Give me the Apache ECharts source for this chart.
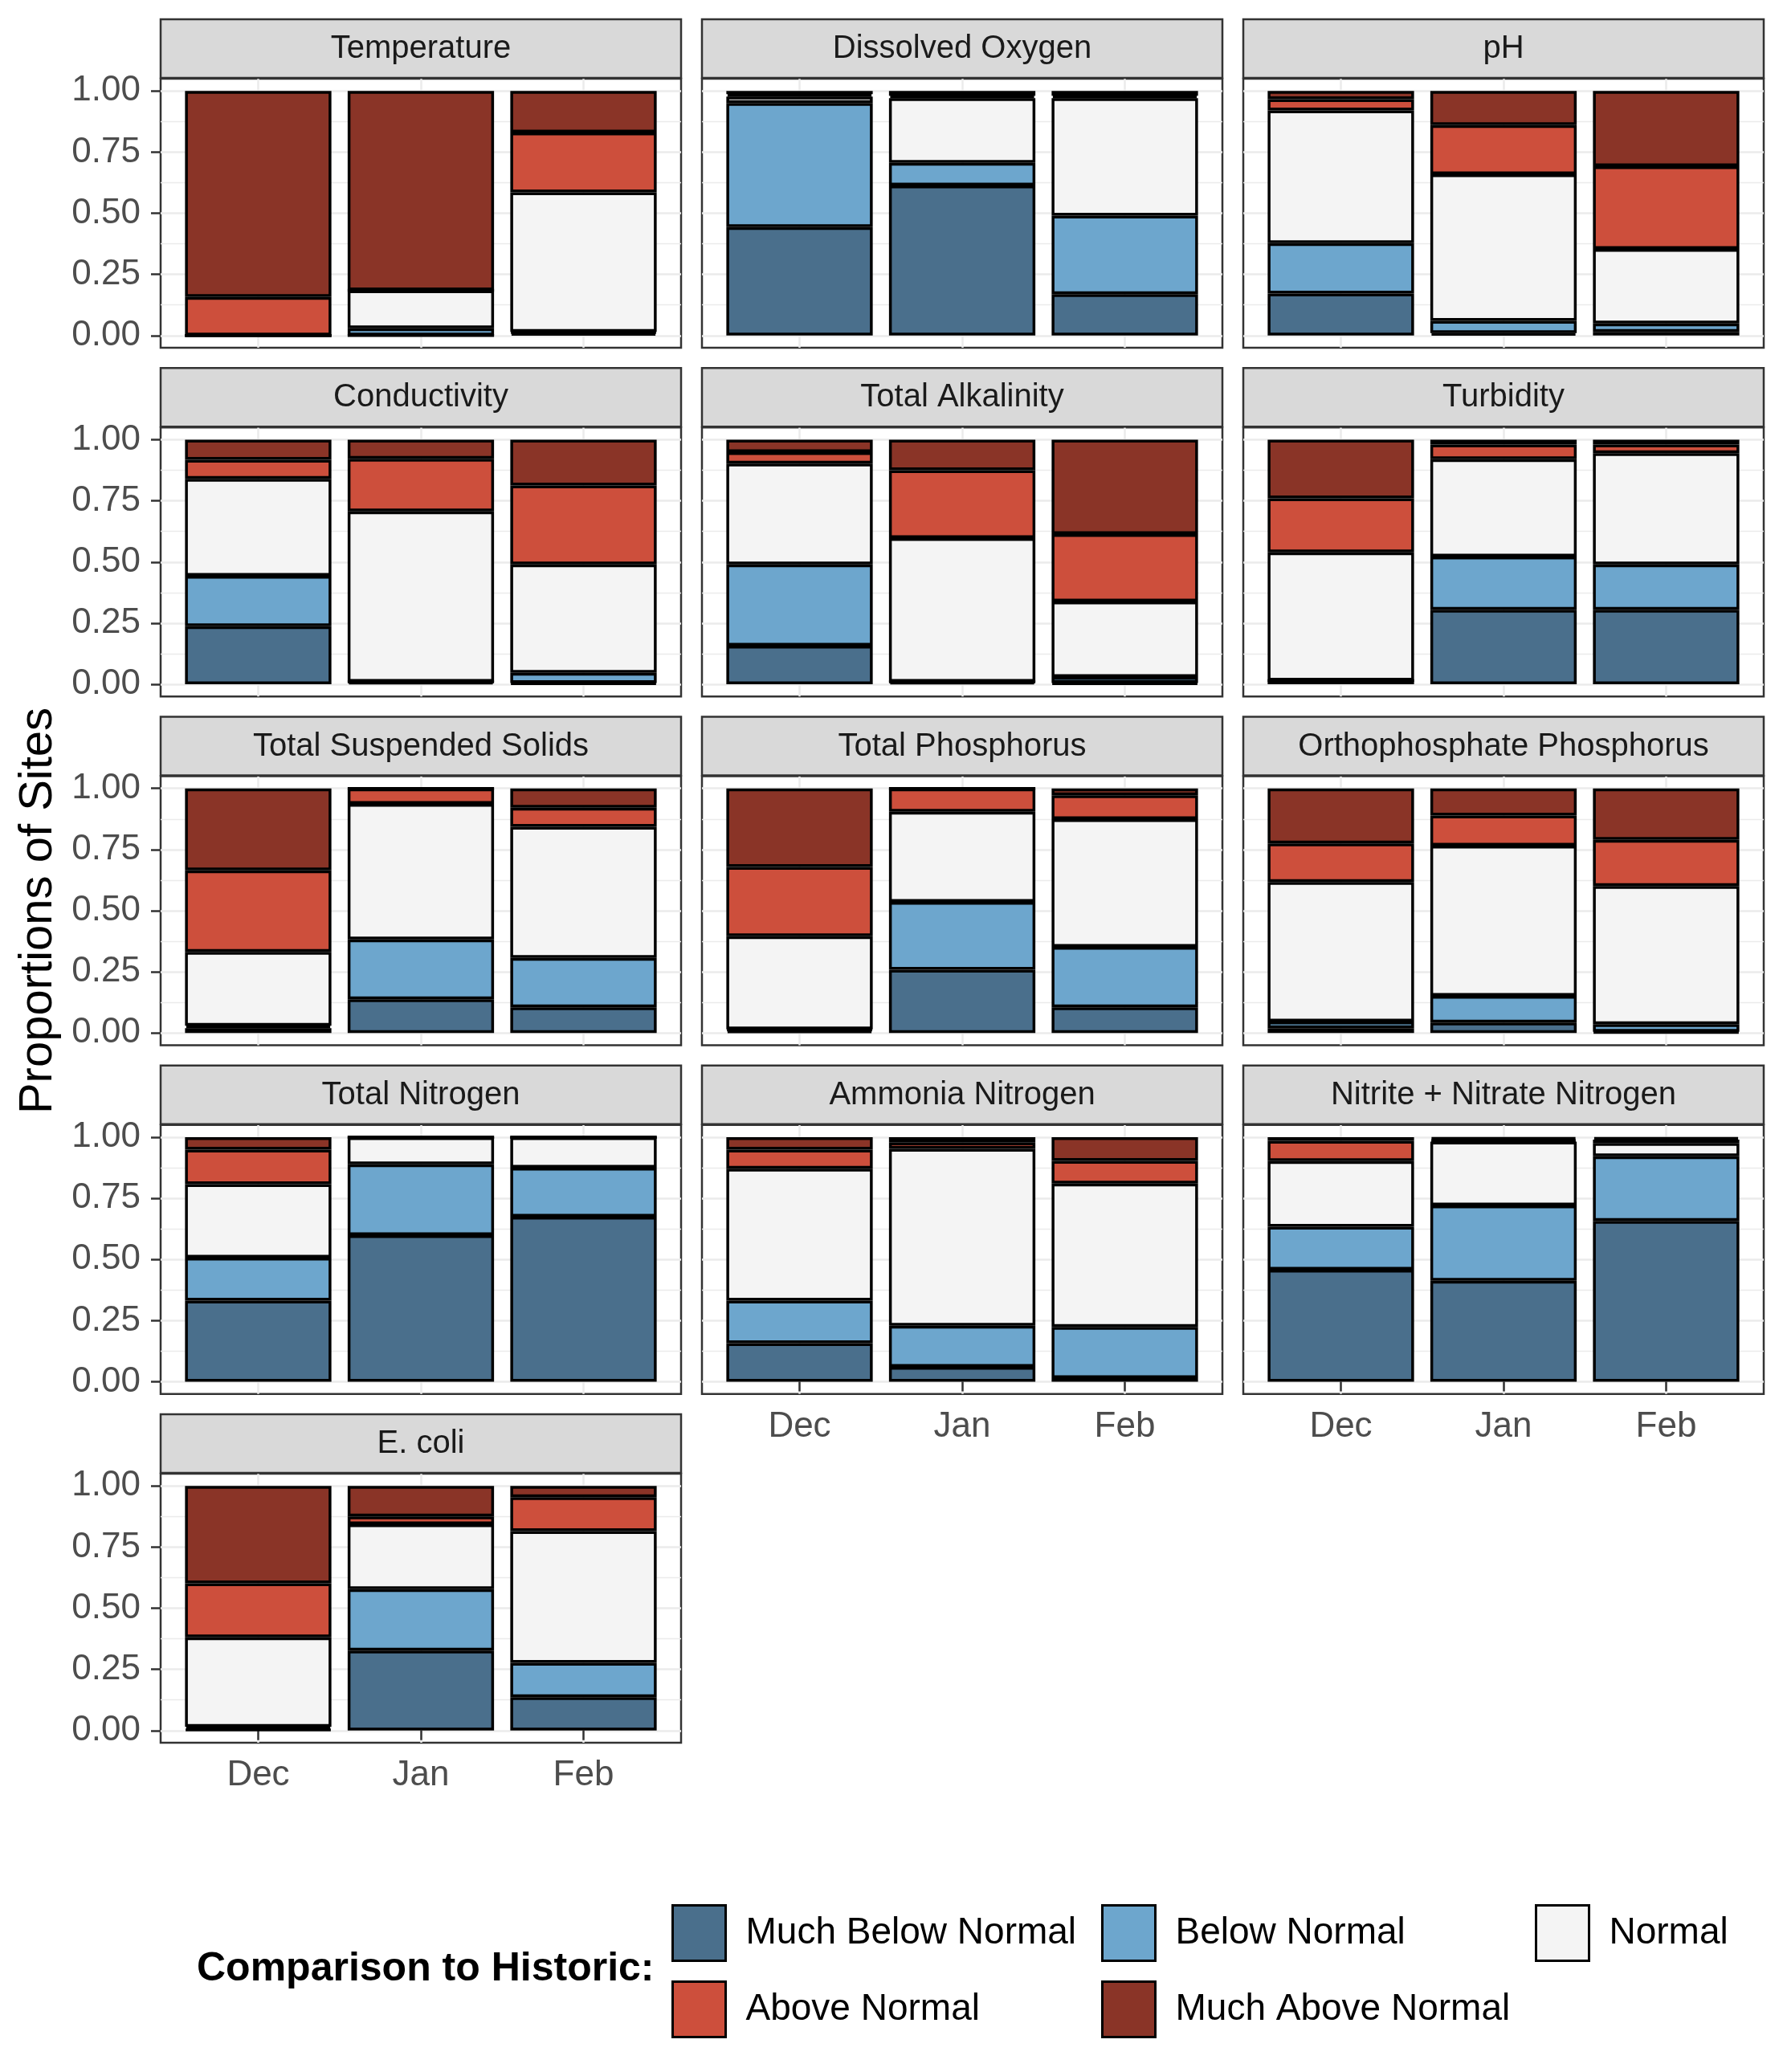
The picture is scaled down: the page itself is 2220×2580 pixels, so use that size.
<!DOCTYPE html>
<html>
<head>
<meta charset="utf-8">
<script src="https://cdn.jsdelivr.net/npm/echarts@6/dist/echarts.min.js"></script>
<style>
  html, body { margin: 0; padding: 0; background: #fff; }
  #chart { width: 2220px; height: 2580px; }
</style>
</head>
<body>
<div id="chart"></div>
<script>
const months = ["Dec", "Jan", "Feb"];
const groups = ["Much Below Normal", "Below Normal", "Normal", "Above Normal", "Much Above Normal"];
const groupColors = ["#4A6F8C", "#6DA6CD", "#F4F4F4", "#CD4F3C", "#8A3427"];
const yTicks = [0, 0.25, 0.5, 0.75, 1];
const yMinor = [0.125, 0.375, 0.625, 0.875];

// each row: one comparison group (bottom to top), values for Dec, Jan, Feb
const temperature = [[0, 0, 0.01], [0, 0.03, 0.005], [0, 0.155, 0.57], [0.158, 0, 0.245], [0.842, 0.815, 0.17]];
const dissolvedOxygen = [[0.443, 0.613, 0.169], [0.508, 0.093, 0.321], [0.026, 0.264, 0.48], [0.01, 0.01, 0.01], [0.013, 0.02, 0.02]];
const pH = [[0.172, 0.01, 0.015], [0.206, 0.05, 0.034], [0.542, 0.599, 0.305], [0.046, 0.201, 0.338], [0.034, 0.14, 0.308]];
const conductivity = [[0.237, 0.01, 0.005], [0.206, 0, 0.042], [0.397, 0.697, 0.443], [0.078, 0.215, 0.323], [0.082, 0.078, 0.187]];
const totalAlkalinity = [[0.158, 0.01, 0.005], [0.332, 0, 0.025], [0.412, 0.588, 0.308], [0.047, 0.277, 0.276], [0.051, 0.125, 0.386]];
const turbidity = [[0.015, 0.305, 0.305], [0, 0.217, 0.185], [0.524, 0.398, 0.455], [0.221, 0.06, 0.035], [0.24, 0.02, 0.02]];
const totalSuspendedSolids = [[0.02, 0.138, 0.105], [0.01, 0.245, 0.202], [0.302, 0.554, 0.536], [0.333, 0.063, 0.078], [0.335, 0, 0.079]];
const totalPhosphorus = [[0.01, 0.259, 0.105], [0.005, 0.277, 0.247], [0.381, 0.369, 0.522], [0.283, 0.095, 0.098], [0.321, 0, 0.028]];
const orthophosphate = [[0.02, 0.043, 0.005], [0.027, 0.109, 0.031], [0.57, 0.614, 0.565], [0.158, 0.123, 0.189], [0.225, 0.111, 0.21]];
const totalNitrogen = [[0.332, 0.599, 0.675], [0.175, 0.29, 0.2], [0.301, 0.111, 0.125], [0.141, 0, 0], [0.051, 0, 0]];
const ammoniaNitrogen = [[0.158, 0.061, 0.015], [0.174, 0.168, 0.209], [0.539, 0.723, 0.586], [0.078, 0.026, 0.093], [0.051, 0.022, 0.097]];
const nitriteNitrate = [[0.458, 0.413, 0.658], [0.176, 0.308, 0.264], [0.268, 0.261, 0.054], [0.083, 0.008, 0.014], [0.015, 0.01, 0.01]];
const eColi = [[0.005, 0.327, 0.136], [0.01, 0.251, 0.141], [0.366, 0.265, 0.538], [0.221, 0.032, 0.139], [0.398, 0.125, 0.046]];

const panels = [
  ["Temperature", temperature],
  ["Dissolved Oxygen", dissolvedOxygen],
  ["pH", pH],
  ["Conductivity", conductivity],
  ["Total Alkalinity", totalAlkalinity],
  ["Turbidity", turbidity],
  ["Total Suspended Solids", totalSuspendedSolids],
  ["Total Phosphorus", totalPhosphorus],
  ["Orthophosphate Phosphorus", orthophosphate],
  ["Total Nitrogen", totalNitrogen],
  ["Ammonia Nitrogen", ammoniaNitrogen],
  ["Nitrite + Nitrate Nitrogen", nitriteNitrate],
  ["E. coli", eColi]
];

const FONT = '"Liberation Sans", Arial, sans-serif';
const PANEL_W = 648;
const PANEL_H = 335;
const COL_X = 200;
const COL_STEP = 674;
const ROW_Y = 98;
const ROW_STEP = 434.25;
const STRIP_H = 74;
const unit = PANEL_W / 3.2;   // one discrete step, ggplot pads 0.6 on each side

// panels that carry the x axis labels (bottom of each column)
const xLabelled = new Set([10, 11, 12]);

const grids = [];
const xAxes = [];
const yAxes = [];
const series = [];
const graphics = [];

panels.forEach(([title, values], i) => {
  const row = Math.floor(i / 3);
  const col = i % 3;
  const left = COL_X + col * COL_STEP;
  const top = ROW_Y + row * ROW_STEP;
  const showX = xLabelled.has(i);
  const showY = col === 0;

  // background panel: border, grid lines, tick labels
  const bg = grids.length;
  grids.push({
    left, top, width: PANEL_W, height: PANEL_H,
    show: true, backgroundColor: "#ffffff", borderColor: "#333333", borderWidth: 2.5
  });
  xAxes.push({
    type: "value", gridIndex: bg, min: 0.4, max: 3.6,
    axisLine: { show: false },
    axisTick: { show: showX, customValues: [1, 2, 3], length: 12, lineStyle: { color: "#333333", width: 2.5 } },
    axisLabel: {
      show: showX, customValues: [1, 2, 3], margin: 19,
      formatter: (v) => months[Math.round(v) - 1] || "",
      fontSize: 44, color: "#4D4D4D", fontFamily: FONT
    },
    splitLine: { show: true, lineStyle: { color: "#EBEBEB", width: 2.5 } }
  });
  yAxes.push({
    type: "value", gridIndex: bg, min: -0.05, max: 1.05, position: "left",
    axisLine: { show: false },
    axisTick: { show: showY, customValues: yTicks, length: 12, lineStyle: { color: "#333333", width: 2.5 } },
    axisLabel: {
      show: showY, customValues: yTicks, margin: 25,
      formatter: (v) => v.toFixed(2),
      fontSize: 44, color: "#4D4D4D", fontFamily: FONT
    },
    splitLine: { show: true, lineStyle: { color: "#EBEBEB", width: 2.5 } }
  });
  yAxes.push({
    type: "value", gridIndex: bg, min: -0.05, max: 1.05, position: "left",
    axisLine: { show: false },
    axisTick: { show: false, customValues: yMinor },
    axisLabel: { show: false, customValues: yMinor },
    splitLine: { show: true, lineStyle: { color: "#EBEBEB", width: 1.3 } }
  });

  // data grid: the three months, stacked bars
  const dg = grids.length;
  grids.push({ left: left + unit * 0.1, top, width: unit * 3, height: PANEL_H, show: false });
  const xi = xAxes.length;
  xAxes.push({
    type: "category", gridIndex: dg, data: months, boundaryGap: true, show: false
  });
  const yi = yAxes.length;
  yAxes.push({
    type: "value", gridIndex: dg, min: -0.05, max: 1.05, show: false, splitLine: { show: false }
  });

  groups.forEach((name, g) => {
    series.push({
      type: "bar",
      name,
      xAxisIndex: xi,
      yAxisIndex: yi,
      stack: "panel" + i,
      barWidth: unit * 0.9,
      data: values[g],
      itemStyle: { color: groupColors[g], borderColor: "#000000", borderWidth: 3.5 },
      emphasis: { disabled: true },
      silent: true
    });
  });

  // facet strip
  graphics.push({
    type: "rect",
    shape: { x: left, y: top - STRIP_H, width: PANEL_W, height: STRIP_H - 1 },
    style: { fill: "#D9D9D9", stroke: "#333333", lineWidth: 2.5 },
    z: 10
  });
  graphics.push({
    type: "text",
    x: left + PANEL_W / 2,
    y: top - STRIP_H / 2,
    style: { text: title, font: `40px ${FONT}`, fill: "#1A1A1A", align: "center", verticalAlign: "middle" },
    z: 11
  });
});

graphics.push({
  type: "text",
  x: 48, y: 1134,
  rotation: Math.PI / 2,
  style: { text: "Proportions of Sites", font: `58px ${FONT}`, fill: "#000000", align: "center", verticalAlign: "middle" }
});

graphics.push({
  type: "text",
  x: 245, y: 2452,
  style: { text: "Comparison to Historic:", font: `bold 50px ${FONT}`, fill: "#000000", align: "left", verticalAlign: "middle" }
});

function legendColumn(names, left) {
  return {
    data: names,
    orient: "vertical",
    left, top: 2366,
    icon: "rect",
    itemWidth: 66, itemHeight: 69, itemGap: 23,
    selectedMode: false,
    itemStyle: { borderColor: "#000000", borderWidth: 3 },
    textStyle: { fontSize: 46, color: "#000000", fontFamily: FONT, padding: [0, 0, 0, 20] }
  };
}

const chart = echarts.init(document.getElementById("chart"), null, { renderer: "canvas" });
chart.setOption({
  animation: false,
  backgroundColor: "#ffffff",
  textStyle: { fontFamily: FONT },
  grid: grids,
  xAxis: xAxes,
  yAxis: yAxes,
  series,
  legend: [
    legendColumn(["Much Below Normal", "Above Normal"], 831),
    legendColumn(["Below Normal", "Much Above Normal"], 1366),
    legendColumn(["Normal"], 1906)
  ],
  graphic: graphics
});
</script>
</body>
</html>
